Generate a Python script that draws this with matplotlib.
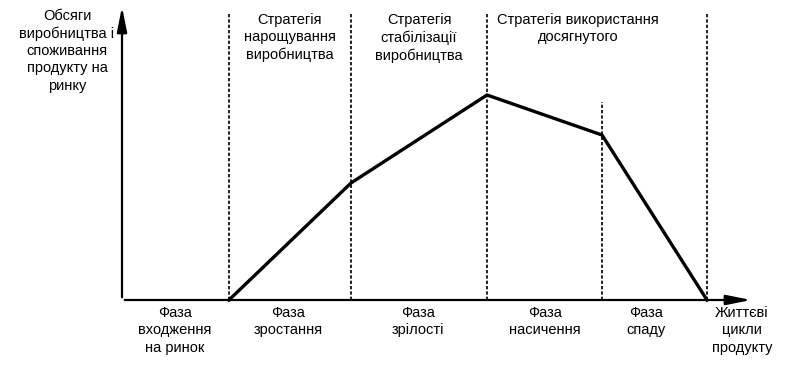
import matplotlib
matplotlib.use("Agg")
import matplotlib.pyplot as plt

plt.rcParams['font.family'] = ['Liberation Sans', 'DejaVu Sans']

# phase boundaries along the life-cycle axis (arbitrary units)
bounds = [107, 229, 365, 480, 585]
# curve of production/consumption volume
curve_x = [107, 229, 365, 480, 585]
curve_y = [0, 117, 205, 165, 0]

phase_names = ["Фаза\nвходження\nна ринок", "Фаза\nзростання", "Фаза\nзрілості",
               "Фаза\nнасичення", "Фаза\nспаду"]
phase_x = [53, 166, 296, 423, 524]

strategy_names = ["Стратегія\nнарощування\nвиробництва",
                  "Стратегія\nстабілізації\nвиробництва",
                  "Стратегія використання\nдосягнутого"]
strategy_x = [168, 297, 456]

y_title = "Обсяги\nвиробництва і\nспоживання\nпродукту на\nринку"
x_title = "Життєві\nцикли\nпродукту"

fig = plt.figure(figsize=(7.87, 3.77), dpi=100)
ax = fig.add_axes([0, 0, 1, 1])
ax.set_xlim(-122, 665)
ax.set_ylim(-77, 300)
ax.axis('off')

# axes with arrows
ax.annotate("", xy=(0, 296), xytext=(0, 0),
            arrowprops=dict(arrowstyle="-|>,head_length=1.5,head_width=0.3", lw=1.6, color="black"))
ax.annotate("", xy=(632, 0), xytext=(0, 0),
            arrowprops=dict(arrowstyle="-|>,head_length=1.5,head_width=0.3", lw=1.6, color="black"))

# dashed phase boundaries
tops = [287, 287, 287, 198, 287]
for b, t in zip(bounds, tops):
    ax.plot([b, b], [0, t], color="black", lw=1.2, ls=(0, (2, 1.2)))

ax.plot(curve_x, curve_y, color="black", lw=2.4, solid_joinstyle='miter')

fs = 10.5
txt = dict(ha='center', va='top', fontsize=fs, linespacing=1.3, fontweight='medium')
for name, x in zip(phase_names, phase_x):
    ax.text(x, -6, name, **txt)
for name, x in zip(strategy_names, strategy_x):
    ax.text(x, 287, name, **txt)
ax.text(-55, 291, y_title, **txt)
ax.text(620, -6, x_title, **txt)

fig.savefig("out.png", dpi=100)
